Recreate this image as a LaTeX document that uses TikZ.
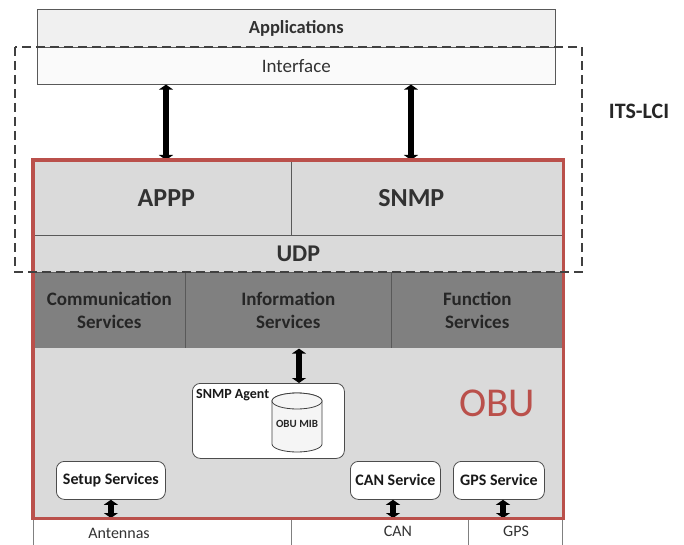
\documentclass[tikz,border=0pt]{standalone}
\usepackage{fontspec}
\setmainfont{Carlito}
\usetikzlibrary{arrows.meta,positioning}
\definecolor{obured}{RGB}{186,80,75}
\definecolor{lightfill}{RGB}{218,218,218}
\definecolor{darkfill}{RGB}{128,128,128}
\definecolor{textgrey}{RGB}{50,50,50}
\tikzset{
  cell/.style={draw=black!65, line width=0.6pt, inner sep=0pt, align=center, anchor=north west, text=textgrey},
  toplbl/.style={font=\bfseries\fontsize{18.5}{21}\selectfont},
  biglbl/.style={font=\bfseries\fontsize{26}{28}\selectfont, text=textgrey},
  svclbl/.style={font=\bfseries\fontsize{19}{23}\selectfont, text=black!85},
  svcbox/.style={draw=black!70, fill=white, line width=0.8pt, rounded corners=8pt, inner sep=0pt, anchor=north west, font=\bfseries\fontsize{16}{18}\selectfont, text=black!90},
  buslbl/.style={font=\fontsize{16}{18}\selectfont, text=textgrey},
  link/.style={{Triangle[length=5pt,width=14pt]}-{Triangle[length=5pt,width=14pt]}, line width=5.5pt},
  obu/.style={draw=obured, line width=3.2pt},
  lcibox/.style={draw=black!75, line width=1.4pt, dash pattern=on 9pt off 5pt},
  mibcyl/.style={draw=black!75, fill=black!4, line width=0.8pt}
}

\begin{document}
\begin{tikzpicture}[x=1pt,y=-1pt]
  \useasboundingbox (0,0) rectangle (684,545);
  \clip (0,0) rectangle (684,545);

  % applications on top
  \node[cell, fill=black!6, minimum width=518pt, minimum height=38pt, toplbl] (app) at (37,9) {Applications};
  \node[cell, fill=black!2, minimum width=518pt, minimum height=37pt, font=\fontsize{19}{21}\selectfont] (iface) at (37,47) {Interface};

  % protocol layers
  \node[cell, fill=lightfill, minimum width=258pt, minimum height=75pt,
        label={[biglbl, xshift=4pt]center:APPP}] (appp) at (33,160) {};
  \node[cell, fill=lightfill, minimum width=272pt, minimum height=75pt,
        label={[biglbl, xshift=-16pt]center:SNMP}] (snmp) at (291,160) {};
  \node[cell, fill=lightfill, minimum width=530pt, minimum height=37pt, font=\bfseries\fontsize{24}{26}\selectfont] (udp) at (33,235) {UDP};

  % service layer
  \node[cell, fill=darkfill, minimum width=152pt, minimum height=76pt, svclbl] (comm) at (33,272) {Communication\\Services};
  \node[cell, fill=darkfill, minimum width=206pt, minimum height=76pt, svclbl] (info) at (185,272) {Information\\Services};
  \node[cell, fill=darkfill, minimum width=172pt, minimum height=76pt, svclbl] (func) at (391,272) {Function\\Services};
  \node[cell, fill=lightfill, draw=none, minimum width=530pt, minimum height=170pt] (lower) at (33,348) {};

  % snmp agent with its mib
  \node[svcbox, minimum width=152pt, minimum height=75pt] (agent) at (192,383) {};
  \node[anchor=west, inner sep=0pt, font=\bfseries\fontsize{14}{16}\selectfont, text=black!90] (agentlbl) at (196,395) {SNMP Agent};
  \draw[mibcyl] (272,401) -- (272,444) arc[start angle=180, end angle=360, x radius=25pt, y radius=8pt]
    -- (322,401) arc[start angle=0, end angle=180, x radius=25pt, y radius=8pt];
  \draw[mibcyl] (297,401) ellipse[x radius=25pt, y radius=8pt];
  \node[font=\bfseries\fontsize{11}{13}\selectfont, text=black!85, inner sep=0pt] (mib) at (297,424) {OBU MIB};

  \node[text=obured, font=\fontsize{41}{44}\selectfont] (obulbl) at (497,403) {OBU};

  % services near the bus
  \node[svcbox, minimum width=109pt, minimum height=38pt] (setup) at (56,461) {Setup Services};
  \node[svcbox, minimum width=90pt, minimum height=38pt] (can) at (350,461) {CAN Service};
  \node[svcbox, minimum width=91pt, minimum height=38pt] (gps) at (453,461) {GPS Service};

  % bus interfaces below
  \node[cell, fill=white, draw=black!50, minimum width=258pt, minimum height=40pt] (ant) at (33,518) {};
  \node[cell, fill=white, draw=black!50, minimum width=177pt, minimum height=40pt] (canbus) at (291,518) {};
  \node[cell, fill=white, draw=black!50, minimum width=94pt, minimum height=40pt] (gpsbus) at (468,518) {};
  \node[buslbl] (antlbl) at (119,533) {Antennas};
  \node[buslbl] (canlbl) at (398,531) {CAN};
  \node[buslbl] (gpslbl) at (516,531) {GPS};

  % links
  \coordinate (xappp) at (166,0);
  \coordinate (xsnmp) at (411,0);
  \coordinate (xinfo) at (299,0);
  \coordinate (xcan) at (393,0);
  \coordinate (xgps) at (503,0);
  \draw[link] (iface.south -| xappp) -- (appp.north -| xappp);
  \draw[link] (iface.south -| xsnmp) -- (snmp.north -| xsnmp);
  \draw[link] (info.south -| xinfo) -- (agent.north -| xinfo);
  \draw[link] (setup.south) -- (setup.south |- ant.north);
  \draw[link] (can.south -| xcan) -- (canbus.north -| xcan);
  \draw[link] (gps.south -| xgps) -- (gpsbus.north -| xgps);

  % obu frame and its-lci frame
  \draw[obu] (appp.north west) rectangle (lower.south east);
  \draw[lcibox] (15,47) rectangle (582,272);
  \node[font=\bfseries\fontsize{22}{24}\selectfont, text=black!85] (lci) at (639,111) {ITS-LCI};
\end{tikzpicture}
\end{document}
